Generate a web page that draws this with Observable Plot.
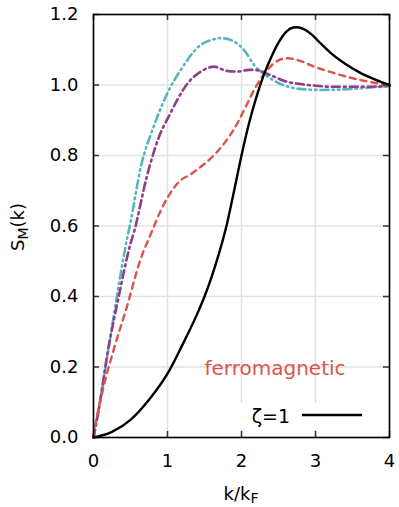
<!DOCTYPE html>
<html>
<head>
<meta charset="utf-8">
<script src="https://cdn.jsdelivr.net/npm/d3@7"></script>
<script src="https://cdn.jsdelivr.net/npm/@observablehq/plot@0.6"></script>
<style>
  html, body { margin: 0; padding: 0; background: #fff; }
  #chart { width: 399px; height: 507px; }
</style>
</head>
<body>
<div id="chart"></div>
<script>
// ---- data ----
const xTicks = [0, 1, 2, 3, 4];
const yTicks = [0, 0.2, 0.4, 0.6, 0.8, 1.0, 1.2];

// ζ = 1 (solid black)
const kBlack = [0, 0.25, 0.5, 0.75, 1.0, 1.2, 1.4, 1.5, 1.6, 1.7, 1.8, 1.9, 2.0, 2.1, 2.2, 2.3, 2.4, 2.5, 2.6, 2.7, 2.75, 2.85, 2.95, 3.05, 3.2, 3.4, 3.6, 3.8, 4.0];
const sBlack = [0, 0.016, 0.05, 0.107, 0.181, 0.262, 0.35, 0.40, 0.458, 0.525, 0.603, 0.70, 0.80, 0.89, 0.965, 1.028, 1.078, 1.12, 1.15, 1.163, 1.164, 1.158, 1.143, 1.122, 1.092, 1.06, 1.035, 1.016, 1.0];

// red dashed
const kRed = [0, 0.045, 0.135, 0.27, 0.45, 0.63, 0.79, 0.9, 1.0, 1.1, 1.18, 1.3, 1.45, 1.6, 1.75, 1.94, 2.05, 2.17, 2.35, 2.5, 2.62, 2.8, 2.98, 3.2, 3.43, 3.7, 4.0];
const sRed = [0, 0.057, 0.143, 0.247, 0.37, 0.502, 0.585, 0.64, 0.68, 0.712, 0.73, 0.745, 0.768, 0.795, 0.83, 0.89, 0.935, 0.986, 1.043, 1.07, 1.076, 1.068, 1.052, 1.037, 1.023, 1.01, 1.0];

// purple dash-dot
const kPurple = [0, 0.07, 0.18, 0.34, 0.5, 0.55, 0.72, 0.88, 1.04, 1.13, 1.27, 1.45, 1.63, 1.8, 1.94, 2.1, 2.21, 2.39, 2.6, 2.75, 3.0, 3.2, 3.6, 4.0];
const sPurple = [0, 0.077, 0.228, 0.399, 0.55, 0.585, 0.74, 0.85, 0.92, 0.957, 1.004, 1.038, 1.052, 1.04, 1.038, 1.043, 1.042, 1.028, 1.01, 1.004, 0.998, 0.995, 0.995, 0.997];

// cyan dash-dot-dot
const kCyan = [0, 0.09, 0.2, 0.315, 0.45, 0.5, 0.64, 0.81, 1.02, 1.18, 1.45, 1.6, 1.72, 1.85, 1.94, 2.05, 2.17, 2.39, 2.6, 2.75, 3.07, 3.43, 3.7, 4.0];
const sCyan = [0, 0.105, 0.247, 0.399, 0.56, 0.61, 0.768, 0.88, 0.986, 1.043, 1.114, 1.128, 1.133, 1.128, 1.118, 1.095, 1.057, 1.019, 0.997, 0.99, 0.986, 0.988, 0.992, 0.997];

const toRows = (ks, ss) => ks.map((k, i) => ({k, s: ss[i]}));
const black = toRows(kBlack, sBlack);
const red = toRows(kRed, sRed);
const purple = toRows(kPurple, sPurple);
const cyan = toRows(kCyan, sCyan);

const FONT = "DejaVu Sans";
const plot = Plot.plot({
  width: 399,
  height: 507,
  marginLeft: 93,
  marginRight: 10,
  marginTop: 14,
  marginBottom: 70,
  style: {fontFamily: FONT, fontSize: "18px", background: "white", color: "black"},
  x: {domain: [0, 4]},
  y: {domain: [0, 1.2]},
  marks: [
    Plot.gridX(xTicks, {stroke: "#e2e2e2", strokeOpacity: 1, strokeWidth: 1.5}),
    Plot.gridY(yTicks, {stroke: "#e2e2e2", strokeOpacity: 1, strokeWidth: 1.5}),
    Plot.line(cyan, {x: "k", y: "s", stroke: "#56b5c0", strokeWidth: 2.6, strokeDasharray: "8,4,1.5,4,1.5,4", curve: "monotone-x"}),
    Plot.line(purple, {x: "k", y: "s", stroke: "#8e3f8a", strokeWidth: 2.6, strokeDasharray: "8,4,2,4", curve: "monotone-x"}),
    Plot.line(red, {x: "k", y: "s", stroke: "#d9554c", strokeWidth: 2.4, strokeDasharray: "6,5", curve: "monotone-x"}),
    Plot.line(black, {x: "k", y: "s", stroke: "black", strokeWidth: 2.4, curve: "monotone-x"}),
    Plot.axisX(xTicks, {tickSize: 0, tickPadding: 17, label: null, fontSize: 18}),
    Plot.axisY(yTicks, {tickSize: 0, tickPadding: 15, label: null, fontSize: 18, tickFormat: d3.format(".1f")}),
    Plot.tickX(xTicks, {x: d => d, stroke: "#333", strokeWidth: 1.5, insetTop: 417}),
    Plot.tickX(xTicks, {x: d => d, stroke: "#333", strokeWidth: 1.5, insetBottom: 417}),
    Plot.tickY(yTicks, {y: d => d, stroke: "#333", strokeWidth: 1.5, insetRight: 290}),
    Plot.tickY(yTicks, {y: d => d, stroke: "#333", strokeWidth: 1.5, insetLeft: 290}),
    Plot.frame({stroke: "black", strokeWidth: 1.6})
  ]
});
document.getElementById("chart").appendChild(plot);

// ---- annotations (text with subscripts, legend) ----
const svg = d3.select(plot);
const xs = plot.scale("x"), ys = plot.scale("y");

// legend box hiding grid lines
svg.append("rect").attr("x", 228).attr("y", 403).attr("width", 158).attr("height", 27).attr("fill", "white");
svg.append("text").attr("x", 290).attr("y", 415.5).attr("text-anchor", "end")
  .attr("dominant-baseline", "central").attr("font-family", FONT).attr("font-size", 19).attr("fill", "black").text("ζ=1");
svg.append("line").attr("x1", 302).attr("x2", 362).attr("y1", 415).attr("y2", 415)
  .attr("stroke", "black").attr("stroke-width", 2.4);

// "ferromagnetic" annotation
svg.append("text").attr("x", xs.apply(2.46)).attr("y", ys.apply(0.195)).attr("text-anchor", "middle")
  .attr("dominant-baseline", "central").attr("font-family", FONT).attr("font-size", 20)
  .attr("fill", "#d9554c").text("ferromagnetic");

// x-axis label k/k_F
const xl = svg.append("text").attr("x", 241).attr("y", 500).attr("text-anchor", "middle")
  .attr("font-family", FONT).attr("font-size", 18).attr("fill", "black");
xl.append("tspan").text("k/k");
xl.append("tspan").attr("font-size", 14).attr("dy", 3).text("F");

// y-axis label S_M(k)
const yl = svg.append("text").attr("transform", "translate(24,227) rotate(-90)").attr("text-anchor", "middle")
  .attr("font-family", FONT).attr("font-size", 18).attr("fill", "black");
yl.append("tspan").text("S");
yl.append("tspan").attr("font-size", 14).attr("dy", 4).text("M");
yl.append("tspan").attr("dy", -4).text("(k)");
</script>
</body>
</html>
